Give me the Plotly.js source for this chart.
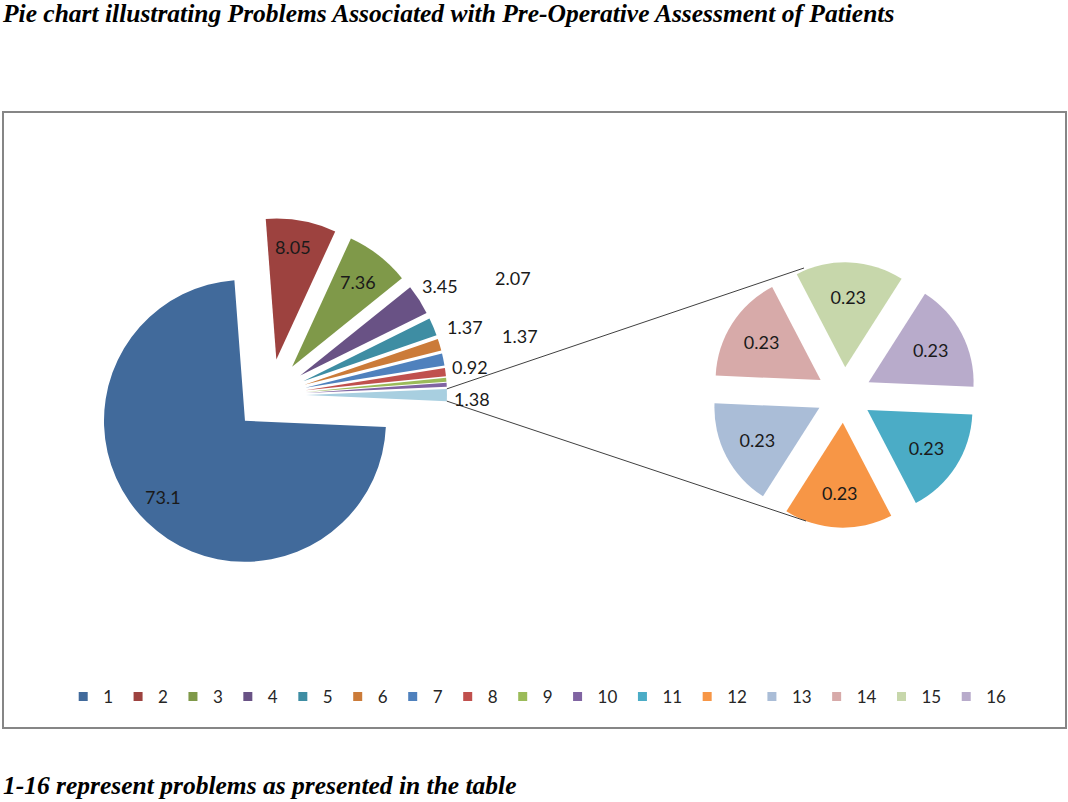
<!DOCTYPE html>
<html>
<head>
<meta charset="utf-8">
<script src="https://cdn.plot.ly/plotly-3.0.1.min.js"></script>
<style>
html,body{margin:0;padding:0;background:#ffffff;}
#chart{width:1068px;height:802px;}
</style>
</head>
<body>
<div id="chart"></div>
<script>
// ---------------- data ----------------
const problems = ['1','2','3','4','5','6','7','8','9','10','11','12','13','14','15','16'];
const percents = [73.1, 8.05, 7.36, 3.45, 2.07, 1.37, 1.37, 0.92, 0.46, 0.46, 0.23, 0.23, 0.23, 0.23, 0.23, 0.23];
const sliceColors = ['#416A9B','#9D423F','#7F9949','#695285','#3E8DA3','#CB7B39',
                     '#4F81BD','#C0504D','#9BBB59','#8064A2','#4BACC6','#F79646',
                     '#AABDD7','#D7AAA9','#C7D7AB','#B8ABCB'];
const otherColor = '#A8CFE0';
const splitIndex = 10;          // problems 11-16 go into the secondary pie
const mainLabelShown = [true, true, true, true, true, true, true, true, false, false]; // 9 & 10 unlabeled

// ---------------- derived ----------------
const W = 1068, H = 802;
const px = x => x / W;
const py = y => 1 - y / H;

const mainLabels = problems.slice(0, splitIndex).concat(['Other']);
const otherSum = Math.round(percents.slice(splitIndex).reduce((a, b) => a + b, 0) * 100) / 100;
const mainValues = percents.slice(0, splitIndex).concat([otherSum]);
const mainColors = sliceColors.slice(0, splitIndex).concat([otherColor]);
const subLabels = problems.slice(splitIndex);
const subValues = percents.slice(splitIndex);
const subColors = sliceColors.slice(splitIndex);

// geometry (pixels)
const main = {cx: 270, cy: 395, r: 141, pull: 0.255};
const sub = {cx: 844, cy: 395, r: 105, pull: 0.264};
function domainFor(g) {
  const half = g.r * (1 + g.pull);
  return {x: [px(g.cx - half), px(g.cx + half)], y: [py(g.cy + half), py(g.cy - half)]};
}

const labelFont = {family: 'Lato, "Open Sans", sans-serif', size: 18, color: '#1a1a1a'};

const traces = [];
traces.push({
  type: 'pie',
  labels: mainLabels,
  values: mainValues,
  sort: false,
  direction: 'clockwise',
  rotation: 92.5,
  pull: mainValues.map(() => main.pull),
  marker: {colors: mainColors, line: {width: 0}},
  textinfo: 'none',
  hoverinfo: 'label+value',
  showlegend: false,
  domain: domainFor(main)
});
traces.push({
  type: 'pie',
  labels: subLabels,
  values: subValues,
  sort: false,
  direction: 'clockwise',
  rotation: 92.5,
  pull: subValues.map(() => sub.pull),
  marker: {colors: subColors, line: {width: 0}},
  text: subValues.map(v => String(v)),
  textinfo: 'text',
  textposition: 'inside',
  insidetextorientation: 'horizontal',
  insidetextfont: labelFont,
  hoverinfo: 'label+value',
  showlegend: false,
  domain: domainFor(sub)
});
// legend entries
problems.forEach((p, i) => {
  traces.push({
    type: 'scatter', mode: 'markers', x: [null], y: [null],
    name: p,
    marker: {symbol: 'square', size: 9, color: sliceColors[i]},
    showlegend: true, hoverinfo: 'skip'
  });
});

// label positions for the main pie (pixels), in slice order; last is "Other"
const mainLabelPos = [[163,497],[293,247],[358,282],[440,286],[513,278],[465,327],[520,336],[470,367],null,null];
const otherLabelPos = [472,399];

const annotations = [];
mainValues.slice(0, splitIndex).forEach((v, i) => {
  if (!mainLabelShown[i] || !mainLabelPos[i]) return;
  annotations.push({xref:'paper', yref:'paper', x: px(mainLabelPos[i][0]), y: py(mainLabelPos[i][1]),
    text: String(v), showarrow: false, xanchor: 'center', yanchor: 'middle', font: labelFont});
});
annotations.push({xref:'paper', yref:'paper', x: px(otherLabelPos[0]), y: py(otherLabelPos[1]),
  text: otherSum.toFixed(2), showarrow: false, xanchor: 'center', yanchor: 'middle', font: labelFont});

// titles
const serifBI = {family: '"Liberation Serif", "DejaVu Serif", serif', size: 25.5, weight: 'bold', style: 'italic', color: '#000'};
annotations.push({xref:'paper', yref:'paper', x: px(0), y: py(13), xanchor:'left', yanchor:'middle', showarrow:false,
  text: 'Pie chart illustrating Problems Associated with Pre-Operative Assessment of Patients', font: serifBI});
annotations.push({xref:'paper', yref:'paper', x: px(1), y: py(785), xanchor:'left', yanchor:'middle', showarrow:false,
  text: '1-16 represent problems as presented in the table', font: serifBI});

// connector lines from the "Other" slice to the secondary pie
const halfOther = (otherSum / mainValues.reduce((a,b)=>a+b,0)) * Math.PI; // half angle in radians
const vx = main.cx + main.r * main.pull;
const startTop = [vx + main.r * Math.cos(halfOther), main.cy - main.r * Math.sin(halfOther)];
const startBot = [vx + main.r * Math.cos(halfOther), main.cy + main.r * Math.sin(halfOther)];
const endTop = [804, 268];
const endBot = [806, 521];

const shapes = [
  {type:'rect', xref:'paper', yref:'paper', x0: px(3), x1: px(1066), y0: py(728), y1: py(112),
   line: {color: '#868686', width: 2}, fillcolor: 'rgba(0,0,0,0)', layer: 'below'},
  {type:'line', xref:'paper', yref:'paper', x0: px(startTop[0]), y0: py(startTop[1]), x1: px(endTop[0]), y1: py(endTop[1]),
   line: {color: '#404040', width: 1}},
  {type:'line', xref:'paper', yref:'paper', x0: px(startBot[0]), y0: py(startBot[1]), x1: px(endBot[0]), y1: py(endBot[1]),
   line: {color: '#404040', width: 1}}
];

const layout = {
  width: W, height: H,
  margin: {l: 0, r: 0, t: 0, b: 0},
  paper_bgcolor: '#ffffff', plot_bgcolor: '#ffffff',
  xaxis: {visible: false, range: [0, 1]},
  yaxis: {visible: false, range: [0, 1]},
  showlegend: true,
  legend: {orientation: 'h', x: 0.503, xanchor: 'center', y: py(697), yanchor: 'middle',
    font: {family: 'Lato, "Open Sans", sans-serif', size: 17, color: '#262626'},
    itemwidth: 30, bgcolor: 'rgba(0,0,0,0)', traceorder: 'normal'},
  annotations: annotations,
  shapes: shapes
};

Plotly.newPlot('chart', traces, layout, {displayModeBar: false, staticPlot: true});
</script>
</body>
</html>
